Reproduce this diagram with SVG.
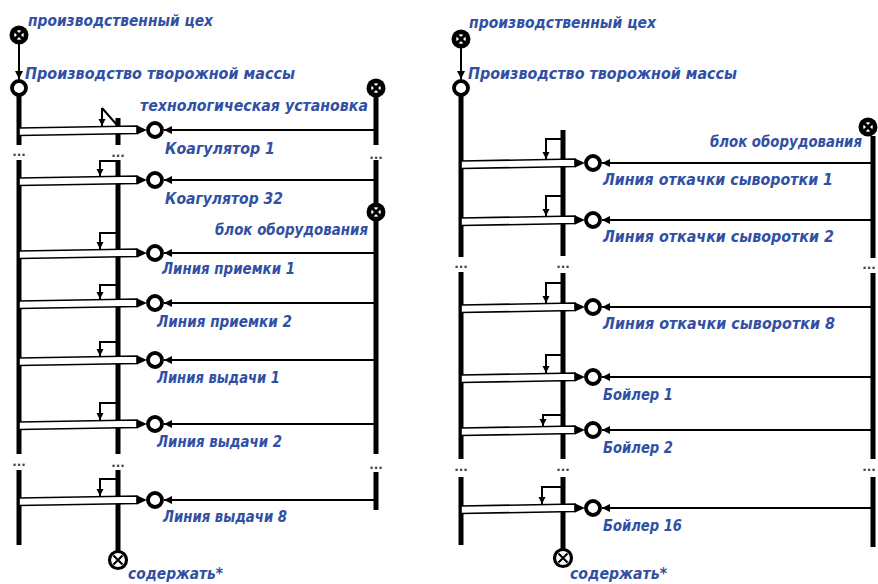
<svg xmlns="http://www.w3.org/2000/svg" width="878" height="584" viewBox="0 0 878 584">
<defs>
<style>
.t{font-family:"DejaVu Sans","Liberation Sans",sans-serif;font-size:15px;font-weight:bold;font-style:italic;fill:#3150a3}
.d{font-family:"DejaVu Sans",sans-serif;font-size:12px;font-weight:bold;fill:#4a4038;text-anchor:middle}
.ln{stroke:#000;stroke-width:5;fill:none}
.th{stroke:#000;stroke-width:2;fill:none}
.bar{fill:#fff;stroke:#000;stroke-width:1.6}
.oc{fill:#fff;stroke:#000;stroke-width:3.8}
</style>
<marker id="ah" markerUnits="userSpaceOnUse" markerWidth="9" markerHeight="9" refX="8" refY="4" orient="auto"><path d="M0,0 L8,4 L0,8 z" fill="#000"/></marker>
<marker id="ah2" markerUnits="userSpaceOnUse" markerWidth="9" markerHeight="9" refX="7" refY="3.5" orient="auto"><path d="M0,0 L7,3.5 L0,7 z" fill="#000"/></marker>
<g id="fc"><circle r="9.5" fill="#000"/><circle r="4.8" fill="#fff"/><path d="M-5,-5 L5,5 M5,-5 L-5,5" stroke="#000" stroke-width="3"/><circle r="1.8" fill="#000"/></g>
<g id="xc"><circle r="8.5" fill="#fff" stroke="#000" stroke-width="3.2"/><path d="M-4.5,-4.5 L4.5,4.5 M4.5,-4.5 L-4.5,4.5" stroke="#000" stroke-width="2.2"/></g>
</defs>
<rect width="878" height="584" fill="#fff"/>

<!-- LEFT DIAGRAM -->
<g id="connectors-left">
<path class="th" d="M19,44 V79" marker-end="url(#ah)"/>
<path class="ln" d="M19,95 V145 M19,160 V454 M19,470 V545"/>
<path class="ln" d="M118,118 V145 M118,160 V454 M118,470 V551"/>
<path class="ln" d="M376,97 V145 M376,160 V203 M376,221 V454 M376,472 V510"/>
<g class="th">
<path d="M376,130 H164" marker-end="url(#ah)"/>
<path d="M376,180 H164" marker-end="url(#ah)"/>
<path d="M376,253 H164" marker-end="url(#ah)"/>
<path d="M376,303 H164" marker-end="url(#ah)"/>
<path d="M376,360 H164" marker-end="url(#ah)"/>
<path d="M376,424 H164" marker-end="url(#ah)"/>
<path d="M376,500 H164" marker-end="url(#ah)"/>
<path d="M102,108 L117,125"/>
<path d="M102,108 V126" marker-end="url(#ah2)"/>
<path d="M118,161 H100 V176" marker-end="url(#ah2)"/>
<path d="M118,233 H100 V249" marker-end="url(#ah2)"/>
<path d="M118,285 H100 V299" marker-end="url(#ah2)"/>
<path d="M118,342 H100 V356" marker-end="url(#ah2)"/>
<path d="M118,403 H100 V420" marker-end="url(#ah2)"/>
<path d="M118,479 H100 V496" marker-end="url(#ah2)"/>
</g>
<g id="bars-left">
<polygon class="bar" points="19,128 137,126 137,133.5 19,135.5"/><polygon points="137,125.5 147,130 137,134.5"/>
<polygon class="bar" points="19,178 137,176 137,183.5 19,185.5"/><polygon points="137,175.5 147,180 137,184.5"/>
<polygon class="bar" points="19,251 137,249 137,256.5 19,258.5"/><polygon points="137,248.5 147,253 137,257.5"/>
<polygon class="bar" points="19,301 137,299 137,306.5 19,308.5"/><polygon points="137,298.5 147,303 137,307.5"/>
<polygon class="bar" points="19,358 137,356 137,363.5 19,365.5"/><polygon points="137,355.5 147,360 137,364.5"/>
<polygon class="bar" points="19,422 137,420 137,427.5 19,429.5"/><polygon points="137,419.5 147,424 137,428.5"/>
<polygon class="bar" points="19,498 137,496 137,503.5 19,505.5"/><polygon points="137,495.5 147,500 137,504.5"/>
</g>
<g class="d">
<text x="19" y="156">...</text><text x="118" y="157">...</text><text x="376" y="159">...</text>
<text x="19" y="466">...</text><text x="118" y="467">...</text><text x="376" y="469">...</text>
</g>
</g>
<g id="n-tsekh-l"><use href="#fc" x="19" y="35"/><text class="t" x="28" y="26" textLength="185" lengthAdjust="spacingAndGlyphs">производственный цех</text></g>
<g id="n-proizv-l"><circle class="oc" cx="19" cy="88" r="7"/><text class="t" x="25" y="79" textLength="270" lengthAdjust="spacingAndGlyphs">Производство творожной массы</text></g>
<g id="n-ustanovka"><use href="#fc" x="376" y="88"/><text class="t" x="140" y="111" textLength="228" lengthAdjust="spacingAndGlyphs">технологическая установка</text></g>
<g id="n-blok-l"><use href="#fc" x="376" y="212"/><text class="t" x="215" y="235" textLength="153" lengthAdjust="spacingAndGlyphs">блок оборудования</text></g>
<g id="n-koag1"><circle class="oc" cx="155" cy="130" r="7"/><text class="t" x="165" y="154" textLength="110" lengthAdjust="spacingAndGlyphs">Коагулятор 1</text></g>
<g id="n-koag32"><circle class="oc" cx="155" cy="180" r="7"/><text class="t" x="165" y="204" textLength="118" lengthAdjust="spacingAndGlyphs">Коагулятор 32</text></g>
<g id="n-priem1"><circle class="oc" cx="155" cy="253" r="7"/><text class="t" x="162" y="274" textLength="133" lengthAdjust="spacingAndGlyphs">Линия приемки 1</text></g>
<g id="n-priem2"><circle class="oc" cx="155" cy="303" r="7"/><text class="t" x="157" y="327" textLength="135" lengthAdjust="spacingAndGlyphs">Линия приемки 2</text></g>
<g id="n-vyd1"><circle class="oc" cx="155" cy="360" r="7"/><text class="t" x="157" y="383" textLength="123" lengthAdjust="spacingAndGlyphs">Линия выдачи 1</text></g>
<g id="n-vyd2"><circle class="oc" cx="155" cy="424" r="7"/><text class="t" x="157" y="447" textLength="125" lengthAdjust="spacingAndGlyphs">Линия выдачи 2</text></g>
<g id="n-vyd8"><circle class="oc" cx="155" cy="500" r="7"/><text class="t" x="163" y="522" textLength="124" lengthAdjust="spacingAndGlyphs">Линия выдачи 8</text></g>
<g id="n-soder-l"><use href="#xc" x="118" y="560"/><text class="t" x="128" y="579" textLength="95" lengthAdjust="spacingAndGlyphs">содержать*</text></g>

<!-- RIGHT DIAGRAM -->
<g id="connectors-right">
<path class="th" d="M461,48 V79" marker-end="url(#ah)"/>
<path class="ln" d="M461,95 V257 M461,272 V459 M461,477 V545"/>
<path class="ln" d="M563,130 V256 M563,273 V459 M563,477 V550"/>
<path class="ln" d="M873,136 V258 M873,273 V459 M873,477 V547"/>
<g class="th">
<path d="M873,163 H602" marker-end="url(#ah)"/>
<path d="M873,220 H602" marker-end="url(#ah)"/>
<path d="M873,307 H602" marker-end="url(#ah)"/>
<path d="M873,377 H602" marker-end="url(#ah)"/>
<path d="M873,430 H602" marker-end="url(#ah)"/>
<path d="M873,508 H602" marker-end="url(#ah)"/>
<path d="M563,139 H546 V159" marker-end="url(#ah2)"/>
<path d="M563,196 H546 V216" marker-end="url(#ah2)"/>
<path d="M563,283 H546 V303" marker-end="url(#ah2)"/>
<path d="M563,355 H546 V373" marker-end="url(#ah2)"/>
<path d="M563,415 H543 V426" marker-end="url(#ah2)"/>
<path d="M563,487 H542 V504" marker-end="url(#ah2)"/>
</g>
<g id="bars-right">
<polygon class="bar" points="461,161 575,159 575,166.5 461,168.5"/><polygon points="575,158.5 585,163 575,167.5"/>
<polygon class="bar" points="461,218 575,216 575,223.5 461,225.5"/><polygon points="575,215.5 585,220 575,224.5"/>
<polygon class="bar" points="461,305 575,303 575,310.5 461,312.5"/><polygon points="575,302.5 585,307 575,311.5"/>
<polygon class="bar" points="461,375 575,373 575,380.5 461,382.5"/><polygon points="575,372.5 585,377 575,381.5"/>
<polygon class="bar" points="461,428 575,426 575,433.5 461,435.5"/><polygon points="575,425.5 585,430 575,434.5"/>
<polygon class="bar" points="461,506 575,504 575,511.5 461,513.5"/><polygon points="575,503.5 585,508 575,512.5"/>
</g>
<g class="d">
<text x="461" y="268">...</text><text x="563" y="268">...</text><text x="869" y="269">...</text>
<text x="461" y="471">...</text><text x="563" y="471">...</text><text x="869" y="471">...</text>
</g>
</g>
<g id="n-tsekh-r"><use href="#fc" x="461" y="39"/><text class="t" x="469" y="28" textLength="187" lengthAdjust="spacingAndGlyphs">производственный цех</text></g>
<g id="n-proizv-r"><circle class="oc" cx="461" cy="88" r="7"/><text class="t" x="468" y="79" textLength="269" lengthAdjust="spacingAndGlyphs">Производство творожной массы</text></g>
<g id="n-blok-r"><use href="#fc" x="868" y="127"/><text class="t" x="710" y="147" textLength="152" lengthAdjust="spacingAndGlyphs">блок оборудования</text></g>
<g id="n-otk1"><circle class="oc" cx="593" cy="163" r="7"/><text class="t" x="603" y="185" textLength="230" lengthAdjust="spacingAndGlyphs">Линия откачки сыворотки 1</text></g>
<g id="n-otk2"><circle class="oc" cx="593" cy="220" r="7"/><text class="t" x="603" y="242" textLength="231" lengthAdjust="spacingAndGlyphs">Линия откачки сыворотки 2</text></g>
<g id="n-otk8"><circle class="oc" cx="593" cy="307" r="7"/><text class="t" x="603" y="329" textLength="232" lengthAdjust="spacingAndGlyphs">Линия откачки сыворотки 8</text></g>
<g id="n-boil1"><circle class="oc" cx="593" cy="377" r="7"/><text class="t" x="603" y="400" textLength="70" lengthAdjust="spacingAndGlyphs">Бойлер 1</text></g>
<g id="n-boil2"><circle class="oc" cx="593" cy="430" r="7"/><text class="t" x="603" y="453" textLength="70" lengthAdjust="spacingAndGlyphs">Бойлер 2</text></g>
<g id="n-boil16"><circle class="oc" cx="593" cy="508" r="7"/><text class="t" x="603" y="531" textLength="79" lengthAdjust="spacingAndGlyphs">Бойлер 16</text></g>
<g id="n-soder-r"><use href="#xc" x="563" y="558"/><text class="t" x="570" y="579" textLength="97" lengthAdjust="spacingAndGlyphs">содержать*</text></g>
</svg>
